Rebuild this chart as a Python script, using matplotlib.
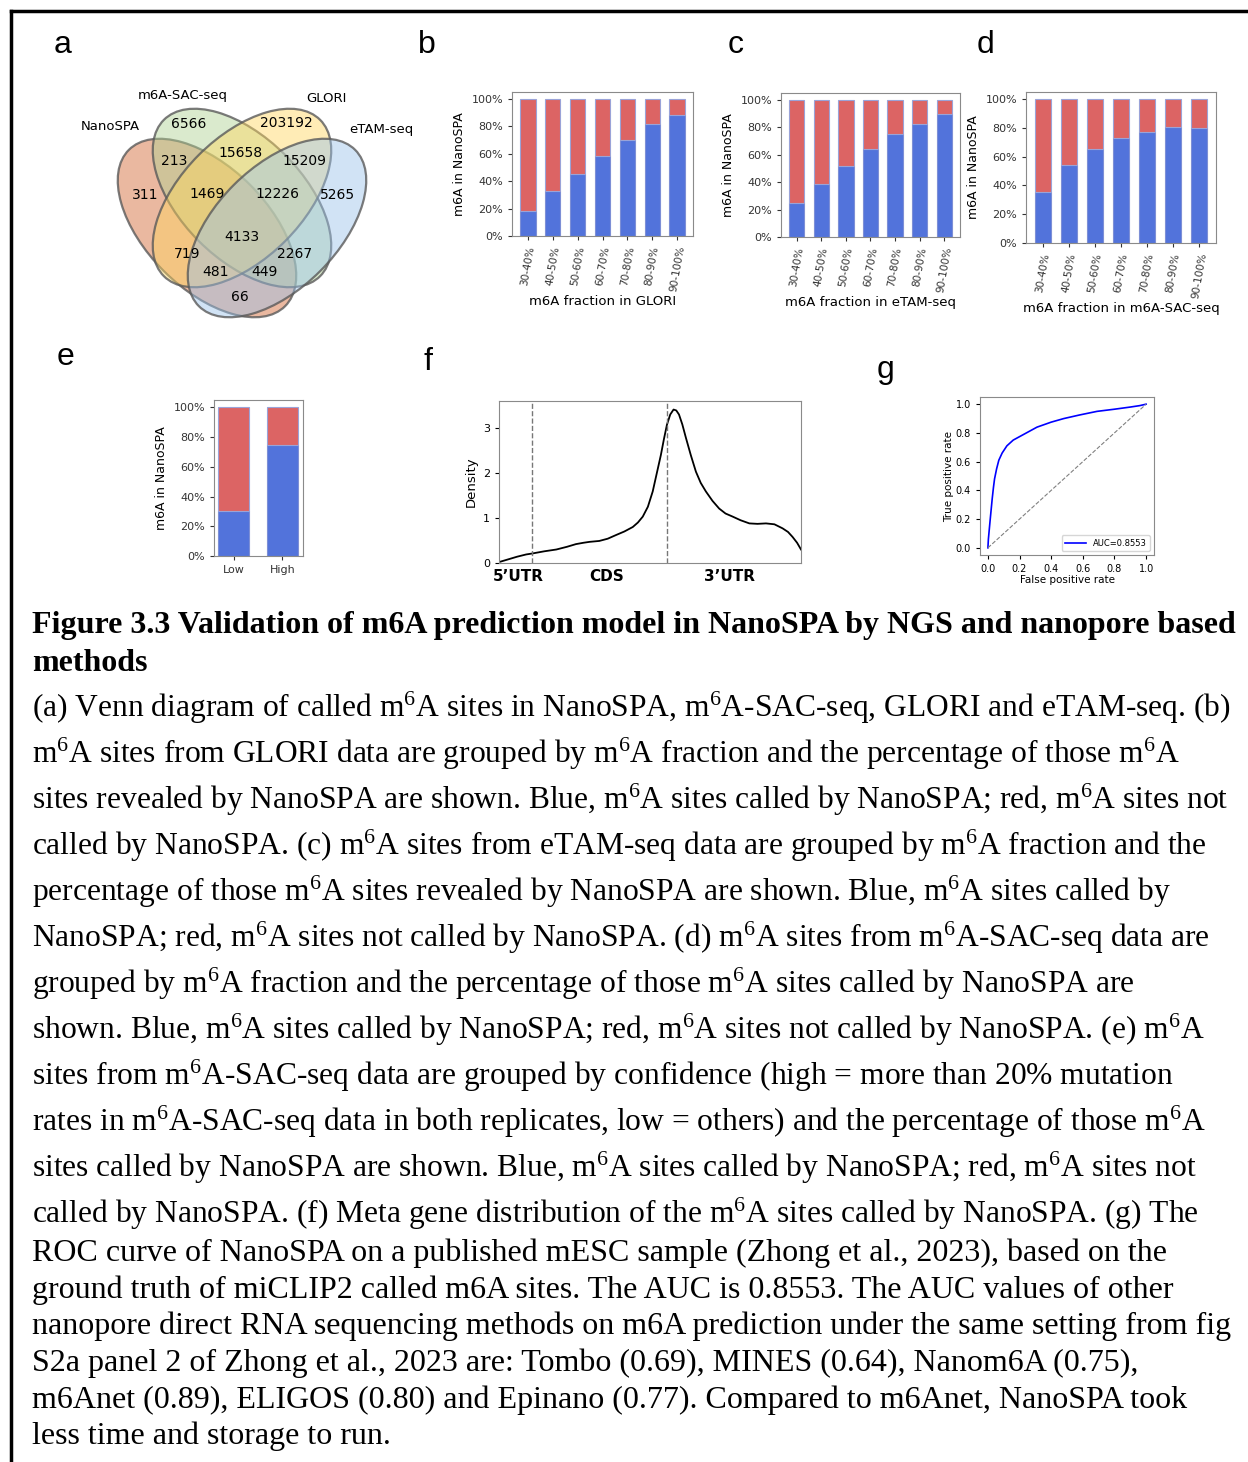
import numpy as np
import matplotlib
matplotlib.use("Agg")
import matplotlib.pyplot as plt
from matplotlib.patches import Ellipse
from matplotlib.lines import Line2D

plt.rcParams['font.family'] = ['DejaVu Sans']
plt.rcParams['mathtext.fontset'] = 'custom'
plt.rcParams['mathtext.rm'] = 'Liberation Serif'
plt.rcParams['mathtext.it'] = 'Liberation Serif:italic'
plt.rcParams['mathtext.bf'] = 'Liberation Serif:bold'

# ======= Data =======

# Venn (a)
venn_sets = ["NanoSPA", "m6A-SAC-seq", "GLORI", "eTAM-seq"]
venn_counts = [6566, 203192, 213, 15658, 15209, 311, 1469, 12226, 5265,
               4133, 719, 2267, 481, 449, 66]

# bar panels (fraction called by NanoSPA)
frac_bins = ["30-40%", "40-50%", "50-60%", "60-70%", "70-80%", "80-90%", "90-100%"]
glori_called = [0.18, 0.33, 0.45, 0.58, 0.70, 0.82, 0.88]
etam_called = [0.25, 0.39, 0.52, 0.645, 0.75, 0.825, 0.895]
sac_called = [0.355, 0.54, 0.655, 0.73, 0.775, 0.805, 0.80]
conf_bins = ["Low", "High"]
conf_called = [0.305, 0.75]

# meta gene density (f)
meta_x = [0.0, 0.03, 0.06, 0.09, 0.109, 0.15, 0.19, 0.225, 0.255, 0.28, 0.30,
          0.332, 0.36, 0.387, 0.415, 0.443, 0.46, 0.476, 0.493, 0.509, 0.522,
          0.536, 0.546, 0.556, 0.567, 0.578, 0.587, 0.596, 0.607, 0.619, 0.635,
          0.652, 0.668, 0.685, 0.707, 0.729, 0.75, 0.774, 0.80, 0.829, 0.856,
          0.884, 0.912, 0.939, 0.957, 0.972, 0.987, 1.0]
meta_y = [0.02, 0.08, 0.14, 0.19, 0.21, 0.26, 0.30, 0.36, 0.42, 0.45, 0.47,
          0.49, 0.54, 0.62, 0.70, 0.80, 0.90, 1.03, 1.25, 1.59, 1.98,
          2.40, 2.75, 3.07, 3.30, 3.41, 3.39, 3.30, 3.08, 2.78, 2.40,
          2.03, 1.78, 1.59, 1.38, 1.21, 1.10, 1.03, 0.95, 0.88, 0.87,
          0.88, 0.86, 0.77, 0.69, 0.58, 0.45, 0.30]
region_bounds = [0.109, 0.555]
region_names = ["5\u2019UTR", "CDS", "3\u2019UTR"]
region_pos = [0.063, 0.358, 0.762]

# ROC (g)
fpr = [0, 0.003, 0.008, 0.013, 0.02, 0.027, 0.035, 0.042, 0.055, 0.069, 0.09,
       0.12, 0.16, 0.21, 0.26, 0.31, 0.40, 0.48, 0.58, 0.69, 0.80, 0.90, 0.96, 1.0]
tpr = [0, 0.06, 0.12, 0.18, 0.26, 0.34, 0.42, 0.48, 0.55, 0.61, 0.66,
       0.71, 0.75, 0.78, 0.81, 0.84, 0.875, 0.90, 0.925, 0.95, 0.965, 0.98, 0.99, 1.0]
auc = 0.8553

BLUE = "#5273db"
RED = "#dc6464"

W, H = 1248, 1462
fig = plt.figure(figsize=(W / 100, H / 100), dpi=100)


def px_rect(l, t, r, b):
    return [l / W, 1 - b / H, (r - l) / W, (b - t) / H]


def panel_letter(x, y, s):
    fig.text(x / W, 1 - y / H, s, fontsize=23, ha="center", va="center",
             family="Liberation Sans")


# figure border (top and left)
fig.add_artist(Line2D([11 / W, 1], [1 - 11 / H, 1 - 11 / H], color="black", lw=2.5))
fig.add_artist(Line2D([11 / W, 11 / W], [0, 1 - 11 / H], color="black", lw=2.5))

# ======= a: Venn =======
axv = fig.add_axes(px_rect(80, 80, 420, 330))
axv.set_xlim(80, 420)
axv.set_ylim(330, 80)
axv.axis("off")
ell_centers = [(207, 228), (242, 198), (242, 198), (277, 228)]
ell_angles = [45, 45, -45, -45]
ell_colors = ["#d1632d", "#afd191", "#ffd75f", "#9bc3eb"]
for (cx, cy), ang, col in zip(ell_centers, ell_angles, ell_colors):
    axv.add_patch(Ellipse((cx, cy), 221, 122, angle=ang, facecolor=col,
                          alpha=0.45, edgecolor="none"))
    axv.add_patch(Ellipse((cx, cy), 221, 122, angle=ang, facecolor="none",
                          edgecolor="#5a5a5a", lw=1.6, alpha=0.8))
count_pos = [(189, 124), (286, 123), (174, 161), (241, 153), (304, 161),
             (145, 195), (207, 194), (277, 194), (338, 195), (242, 237),
             (187, 254), (295, 254), (216, 272), (265, 272), (240, 297)]
for (x, y), n in zip(count_pos, venn_counts):
    axv.text(x, y, str(n), ha="center", va="center", fontsize=10)
set_pos = [(110, 126), (183, 95), (326, 99), (381, 130)]
for (x, y), s in zip(set_pos, venn_sets):
    axv.text(x, y, s, ha="center", va="center", fontsize=9.5)
panel_letter(63, 45, "a")


# ======= b, c, d, e: stacked bars =======
def stacked(rect, cats, called, xlabel, rot):
    ax = fig.add_axes(rect)
    x = np.arange(len(cats))
    called = np.array(called)
    ax.bar(x, called, width=0.62, color=BLUE, edgecolor="#7d8fd6", lw=0.8)
    ax.bar(x, 1 - called, bottom=called, width=0.62, color=RED,
           edgecolor="#9aa3d8", lw=0.8)
    ax.set_ylim(0, 1.05)
    ax.set_yticks([0, 0.2, 0.4, 0.6, 0.8, 1.0])
    ax.set_yticklabels(["0%", "20%", "40%", "60%", "80%", "100%"], fontsize=8)
    ax.set_xticks(x)
    if rot:
        ax.set_xticklabels(cats, rotation=80, fontsize=7.5)
    else:
        ax.set_xticklabels(cats, fontsize=8)
    ax.set_ylabel("m6A in NanoSPA", fontsize=9)
    if xlabel:
        ax.set_xlabel(xlabel, fontsize=9.5, labelpad=2)
    for sp in ax.spines.values():
        sp.set_color("#8a8a8a")
    ax.tick_params(colors="#333333", length=3, width=0.8)
    return ax


stacked(px_rect(512, 92, 693, 236), frac_bins, glori_called, "m6A fraction in GLORI", True)
panel_letter(427, 45, "b")
stacked(px_rect(781, 93, 960, 237), frac_bins, etam_called, "m6A fraction in eTAM-seq", True)
panel_letter(736, 45, "c")
stacked(px_rect(1026, 92, 1216, 243), frac_bins, sac_called, "m6A fraction in m6A-SAC-seq", True)
panel_letter(985, 45, "d")
axe = stacked(px_rect(214, 400, 303, 556), conf_bins, conf_called, None, False)
axe.set_xlim(-0.4, 1.42)
panel_letter(65, 357, "e")

# ======= f: meta gene =======
axf = fig.add_axes(px_rect(499, 401, 801, 563))
axf.plot(meta_x, meta_y, color="black", lw=1.3)
for b in region_bounds:
    axf.axvline(b, color="#777777", ls="--", lw=1)
axf.set_xlim(0, 1)
axf.set_ylim(0, 3.6)
axf.set_yticks([0, 1, 2, 3])
axf.tick_params(axis="y", labelsize=8, length=3)
axf.set_xticks(region_pos)
axf.set_xticklabels(region_names, fontsize=11, fontweight="semibold")
axf.tick_params(axis="x", length=0, pad=4)
axf.set_ylabel("Density", fontsize=9.5)
for sp in axf.spines.values():
    sp.set_color("#8a8a8a")
panel_letter(428, 362, "f")

# ======= g: ROC =======
axg = fig.add_axes(px_rect(980, 397, 1154, 555))
axg.plot(fpr, tpr, color="blue", lw=1.2, label="AUC=%.4f" % auc)
axg.plot([0, 1], [0, 1], color="gray", ls="--", lw=0.8)
axg.set_xticks(np.arange(0, 1.01, 0.2))
axg.set_yticks(np.arange(0, 1.01, 0.2))
axg.tick_params(labelsize=7, length=3)
axg.set_xlabel("False positive rate", fontsize=7.5, labelpad=1)
axg.set_ylabel("True positive rate", fontsize=7.5, labelpad=1)
axg.legend(loc="lower right", fontsize=6, handlelength=2.5)
for sp in axg.spines.values():
    sp.set_color("#8a8a8a")
panel_letter(886, 370, "g")

# ======= caption =======
title_lines = [
    "Figure 3.3 Validation of m6A prediction model in NanoSPA by NGS and nanopore based",
    "methods",
]
title_base = [633, 671]
for s, y in zip(title_lines, title_base):
    fig.text(32 / W, 1 - y / H, s, fontsize=23, fontweight="bold",
             family="Liberation Serif", va="baseline")

body_lines = [
    "(a) Venn diagram of called m^6A sites in NanoSPA, m^6A-SAC-seq, GLORI and eTAM-seq. (b)",
    "m^6A sites from GLORI data are grouped by m^6A fraction and the percentage of those m^6A",
    "sites revealed by NanoSPA are shown. Blue, m^6A sites called by NanoSPA; red, m^6A sites not",
    "called by NanoSPA. (c) m^6A sites from eTAM-seq data are grouped by m^6A fraction and the",
    "percentage of those m^6A sites revealed by NanoSPA are shown. Blue, m^6A sites called by",
    "NanoSPA; red, m^6A sites not called by NanoSPA. (d) m^6A sites from m^6A-SAC-seq data are",
    "grouped by m^6A fraction and the percentage of those m^6A sites called by NanoSPA are",
    "shown. Blue, m^6A sites called by NanoSPA; red, m^6A sites not called by NanoSPA. (e) m^6A",
    "sites from m^6A-SAC-seq data are grouped by confidence (high = more than 20% mutation",
    "rates in m^6A-SAC-seq data in both replicates, low = others) and the percentage of those m^6A",
    "sites called by NanoSPA are shown. Blue, m^6A sites called by NanoSPA; red, m^6A sites not",
    "called by NanoSPA. (f) Meta gene distribution of the m^6A sites called by NanoSPA. (g) The",
    "ROC curve of NanoSPA on a published mESC sample (Zhong et al., 2023), based on the",
    "ground truth of miCLIP2 called m6A sites. The AUC is 0.8553. The AUC values of other",
    "nanopore direct RNA sequencing methods on m6A prediction under the same setting from fig",
    "S2a panel 2 of Zhong et al., 2023 are: Tombo (0.69), MINES (0.64), Nanom6A (0.75),",
    "m6Anet (0.89), ELIGOS (0.80) and Epinano (0.77). Compared to m6Anet, NanoSPA took",
    "less time and storage to run.",
]
body_base = [717, 763, 809, 855, 901, 947, 993, 1039, 1085, 1131, 1177, 1223,
             1261, 1298, 1334, 1371, 1408, 1444]
for s, y in zip(body_lines, body_base):
    fs = 22.7 if "m^6A" in s else 23
    s = s.replace("m^6A", r"m$^{\mathrm{6}}$A")
    fig.text(32 / W, 1 - y / H, s, fontsize=fs, family="Liberation Serif",
             va="baseline")

fig.savefig("out.png", dpi=100)
